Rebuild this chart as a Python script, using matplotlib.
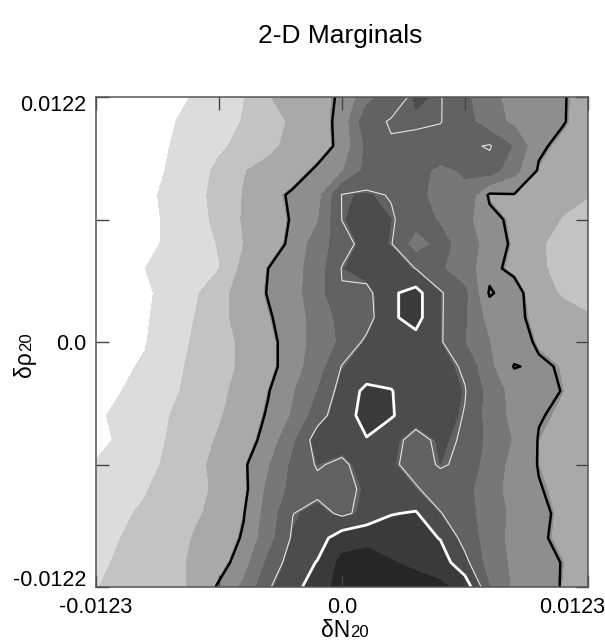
import numpy as np
import matplotlib
matplotlib.use('Agg')
import matplotlib.pyplot as plt
from matplotlib.transforms import ScaledTranslation

plt.rcParams['font.family'] = ['Liberation Sans', 'DejaVu Sans']

# axis ranges (dN20 horizontal, drho20 vertical)
dN_lim = (-0.0123, 0.0123)
drho_lim = (-0.0122, 0.0122)
xtick_vals = [-0.0123, -0.00615, 0.0, 0.00615, 0.0123]
xtick_text = ['-0.0123', '', '0.0', '', '0.0123']
ytick_vals = [-0.0122, -0.0061, 0.0, 0.0061, 0.0122]
ytick_text = ['-0.0122', '', '0.0', '', '0.0122']

# 2-D marginal density in "shade level" units
# 21 x 21 nodes, first row = top edge, first column = left edge
density = [
    [0, 0, 0.2, 0.6, 1.1, 1.55, 1.97, 2.95, 3.35, 3.8, 4.15, 5.65, 6.6, 7.05, 6.95, 6.2, 5.3, 4.65, 4.4, 4.1, 3.7],
    [0, 0, 0.3, 0.9, 1.3, 1.65, 2.05, 2.6, 3.15, 3.6, 4.35, 6.7, 6.95, 6.95, 6.93, 6.4, 5.4, 4.8, 4.5, 4.1, 3.6],
    [0, 0.05, 0.4, 1.0, 1.4, 1.85, 2.25, 2.75, 3.3, 3.6, 4.3, 6.2, 6.85, 6.8, 6.6, 6.7, 6.99, 5.9, 4.2, 3.8, 3.5],
    [0.1, 0.3, 0.6, 1.1, 1.6, 2.2, 2.95, 3.3, 3.6, 4.2, 4.9, 6.3, 6.6, 6.3, 5.8, 6.1, 6.5, 5.3, 3.95, 3.6, 3.3],
    [0.2, 0.5, 0.8, 1.2, 1.75, 2.25, 3.05, 3.7, 4.2, 4.6, 6.95, 7.05, 6.85, 6.3, 5.6, 5.8, 3.9, 4.0, 3.6, 3.2, 3.05],
    [0.15, 0.45, 0.75, 1.15, 1.7, 2.2, 3.1, 3.5, 4.15, 4.9, 6.92, 7.4, 7.0, 6.4, 5.9, 5.3, 4.3, 3.85, 3.3, 2.95, 2.6],
    [0.2, 0.5, 0.85, 1.1, 1.6, 2.05, 3.0, 3.5, 4.3, 5.5, 6.5, 7.3, 6.95, 5.5, 6.3, 5.6, 4.5, 3.9, 3.1, 2.7, 2.5],
    [0.35, 0.7, 1.0, 1.3, 1.6, 1.97, 3.3, 4.05, 4.6, 5.5, 6.95, 7.4, 7.5, 6.88, 6.1, 5.5, 4.3, 3.8, 3.15, 2.7, 2.4],
    [0.3, 0.6, 0.85, 1.3, 1.85, 2.6, 3.5, 4.1, 4.6, 5.6, 6.85, 6.6, 7.8, 8.3, 7.0, 6.2, 3.95, 4.5, 3.3, 2.9, 2.6],
    [0.3, 0.6, 0.9, 1.4, 2.0, 2.7, 3.4, 3.95, 4.5, 5.4, 6.3, 6.5, 7.8, 8.3, 7.0, 6.1, 4.6, 4.25, 3.8, 3.3, 3.1],
    [0.4, 0.65, 0.95, 1.6, 2.1, 2.6, 3.2, 3.7, 4.6, 5.3, 6.2, 7.1, 7.5, 7.6, 7.0, 6.0, 5.0, 4.5, 3.9, 3.6, 3.3],
    [0.6, 0.85, 1.1, 1.7, 2.2, 2.6, 3.2, 3.7, 4.6, 5.5, 6.95, 7.3, 7.4, 7.2, 7.3, 6.75, 5.2, 4.0, 4.2, 3.95, 3.5],
    [0.8, 0.98, 1.45, 1.8, 2.3, 2.8, 3.3, 4.0, 4.9, 6.0, 7.3, 8.2, 8.0, 7.3, 7.3, 6.95, 5.6, 4.6, 4.4, 4.0, 3.6],
    [0.85, 1.2, 1.55, 2.0, 2.5, 2.9, 3.5, 4.15, 5.1, 6.5, 7.5, 8.3, 8.05, 7.3, 7.35, 6.85, 5.6, 4.7, 4.1, 3.9, 3.6],
    [0.8, 1.1, 1.5, 2.1, 2.6, 3.1, 3.6, 4.4, 5.8, 7.4, 7.4, 7.9, 7.2, 6.6, 7.1, 6.8, 5.7, 4.9, 4.0, 3.7, 3.4],
    [1.05, 1.4, 1.7, 2.2, 2.8, 3.2, 3.9, 4.9, 6.2, 7.0, 6.7, 7.4, 7.1, 6.5, 7.0, 6.7, 5.5, 4.7, 4.0, 3.6, 3.3],
    [1.2, 1.5, 1.95, 2.3, 2.85, 3.1, 3.8, 5.2, 6.3, 6.6, 6.6, 7.1, 7.3, 7.0, 6.4, 6.3, 5.4, 4.6, 4.1, 3.8, 3.4],
    [1.5, 1.9, 2.1, 2.45, 2.9, 3.2, 4.0, 5.4, 6.88, 7.3, 6.7, 7.2, 7.9, 8.05, 6.95, 6.3, 5.6, 4.7, 4.3, 3.8, 3.5],
    [1.6, 2.0, 2.3, 2.6, 3.05, 3.5, 4.15, 5.6, 7.05, 7.5, 8.5, 8.8, 8.6, 8.4, 7.9, 6.5, 5.6, 4.6, 4.2, 3.8, 3.5],
    [1.85, 2.1, 2.5, 2.8, 3.1, 3.6, 4.6, 6.2, 7.4, 8.0, 9.3, 9.3, 9.05, 8.8, 8.5, 7.2, 5.5, 4.8, 4.4, 4.0, 3.6],
    [1.97, 2.2, 2.5, 2.8, 3.1, 4.2, 5.2, 6.8, 7.6, 8.5, 9.4, 9.6, 9.5, 9.4, 9.2, 8.6, 6.0, 4.8, 4.6, 3.95, 3.6],
]

fill_levels = [-0.5, 1, 2, 3, 4, 5, 6, 7, 8, 9, 10]
fill_colors = ['#ffffff', '#dcdcdc', '#c3c3c3', '#a9a9a9', '#8e8e8e',
               '#777777', '#626262', '#4c4c4c', '#3a3a3a', '#262626']
outer_level = 4.05   # thick black
mid_level = 6.9      # thin white
inner_level = 7.95   # thick white

Z = np.array(density)
ny, nx = Z.shape
x = np.linspace(dN_lim[0], dN_lim[1], nx)
y = np.linspace(drho_lim[1], drho_lim[0], ny)

fig = plt.figure(figsize=(6.05, 6.42), dpi=100)
ax = fig.add_axes([96 / 605, 55 / 642, 492 / 605, 490 / 642])

ax.contourf(x, y, Z, levels=fill_levels, colors=fill_colors)
ax.contour(x, y, Z, levels=[outer_level], colors='black', linewidths=1.8)
ax.contour(x, y, Z, levels=[mid_level], colors='#e6e6e6', linewidths=0.8)
ax.contour(x, y, Z, levels=[inner_level], colors='white', linewidths=2.0)

ax.set_xlim(*dN_lim)
ax.set_ylim(*drho_lim)
ax.set_xticks(xtick_vals)
ax.set_xticklabels(xtick_text)
ax.set_yticks(ytick_vals)
ax.set_yticklabels(ytick_text)
ax.tick_params(direction='in', length=9, width=1, top=True, right=True,
               color='#444444', labelsize=15.5, pad=7)
for s in ax.spines.values():
    s.set_color('#555555')
    s.set_linewidth(1.1)

# nudge the end labels inwards the way the original does
xl = ax.get_xticklabels()
xl[-1].set_transform(xl[-1].get_transform() + ScaledTranslation(-0.16, 0, fig.dpi_scale_trans))
yl = ax.get_yticklabels()
yl[0].set_transform(yl[0].get_transform() + ScaledTranslation(0, 0.09, fig.dpi_scale_trans))
yl[-1].set_transform(yl[-1].get_transform() + ScaledTranslation(0, -0.06, fig.dpi_scale_trans))

# axis labels: main symbol plus smaller index on the same baseline
fig.text(350 / 605, 1 - 637 / 642, '\u03b4N', fontsize=16.5, ha='right', va='baseline')
fig.text(350 / 605, 1 - 637 / 642, '20', fontsize=12, ha='left', va='baseline')
fig.text(31 / 605, 1 - 351 / 642, '\u03b4\u03c1', fontsize=16.5, rotation=90,
         rotation_mode='anchor', ha='right', va='baseline')
fig.text(31 / 605, 1 - 351 / 642, '20', fontsize=12, rotation=90,
         rotation_mode='anchor', ha='left', va='baseline')

fig.text(340 / 605, 1 - 36 / 642, '2-D Marginals', fontsize=19, ha='center', va='center')

fig.savefig('out.png', dpi=100)
